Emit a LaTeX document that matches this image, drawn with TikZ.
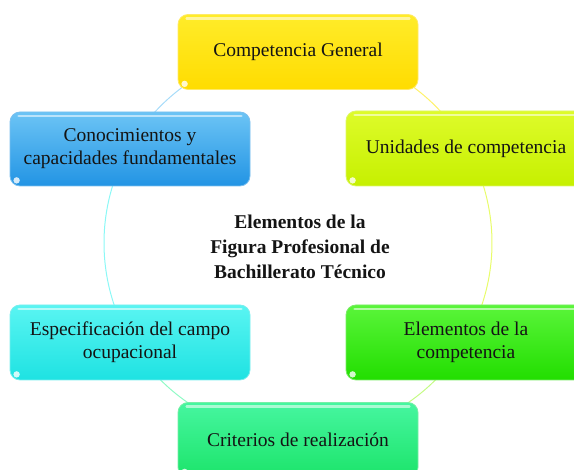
\documentclass[tikz,border=0pt]{standalone}
\usepackage{fontspec}
\setmainfont{Liberation Serif}
\definecolor{ytop}{HTML}{FFEC2A}\definecolor{ybot}{HTML}{FFDC00}
\definecolor{btop}{HTML}{6CC4F5}\definecolor{bbot}{HTML}{2294E4}
\definecolor{ltop}{HTML}{DEFB2A}\definecolor{lbot}{HTML}{C6F000}
\definecolor{ctop}{HTML}{5AF5F2}\definecolor{cbot}{HTML}{1EE2E2}
\definecolor{gtop}{HTML}{5AF53A}\definecolor{gbot}{HTML}{22DE00}
\definecolor{mtop}{HTML}{46F6A0}\definecolor{mbot}{HTML}{1CE46A}
\definecolor{txt}{HTML}{141414}
\tikzset{
  box/.style={rounded corners=10pt, minimum width=240pt, minimum height=75pt,
    align=center, text=txt, draw=white!40!#1, line width=0.8pt,
    font=\fontsize{19.5}{23}\selectfont},
  hl/.style={white, line width=2.5pt, opacity=0.55, line cap=round},
  ring/.style={line width=1pt}
}
\begin{document}
\begin{tikzpicture}[x=1pt,y=1pt]
\useasboundingbox (0,0) rectangle (574,470);
\clip (0,0) rectangle (574,470);
\coordinate (c) at (298,227);
% ring
\draw[ring, draw=ytop!70] ([shift={(90:194)}]c) arc (90:29:194);
\draw[ring, draw=ltop!70] ([shift={(29:194)}]c) arc (29:-31:194);
\draw[ring, draw=gtop!50!ltop!60] ([shift={(-31:194)}]c) arc (-31:-90:194);
\draw[ring, draw=mtop!60] ([shift={(-90:194)}]c) arc (-90:-150:194);
\draw[ring, draw=ctop!70] ([shift={(210:194)}]c) arc (210:151:194);
\draw[ring, draw=btop!60] ([shift={(151:194)}]c) arc (151:90:194);
% boxes
\node[box=ybot, top color=ytop, bottom color=ybot] (gen) at (298,418) {Competencia General};
\node[box=bbot, top color=btop, bottom color=bbot, minimum height=74pt] (con) at (130,321) {Conocimientos y\\capacidades fundamentales};
\node[box=lbot, top color=ltop, bottom color=lbot] (uni) at (466,321.5) {Unidades de competencia};
\node[box=cbot, top color=ctop, bottom color=cbot] (esp) at (130,127.5) {Especificación del campo\\ocupacional};
\node[box=gbot, top color=gtop, bottom color=gbot] (ele) at (466,127.5) {Elementos de la\\competencia};
\node[box=mbot, top color=mtop, bottom color=mbot] (cri) at (298,30) {Criterios de realización};
% gloss
\foreach \n in {gen,con,uni,esp,ele,cri}{
  \draw[hl] ([xshift=9pt,yshift=-4.5pt]\n.north west) -- ([xshift=-9pt,yshift=-4.5pt]\n.north east);
  \fill[white, opacity=0.8] ([xshift=7pt,yshift=6pt]\n.south west) circle (3.2pt);
}
% centre text
\node[align=center, text=txt, font=\bfseries\fontsize{19.5}{25}\selectfont] (title) at (300,223)
  {Elementos de la\\Figura Profesional de\\Bachillerato Técnico};
\end{tikzpicture}
\end{document}
